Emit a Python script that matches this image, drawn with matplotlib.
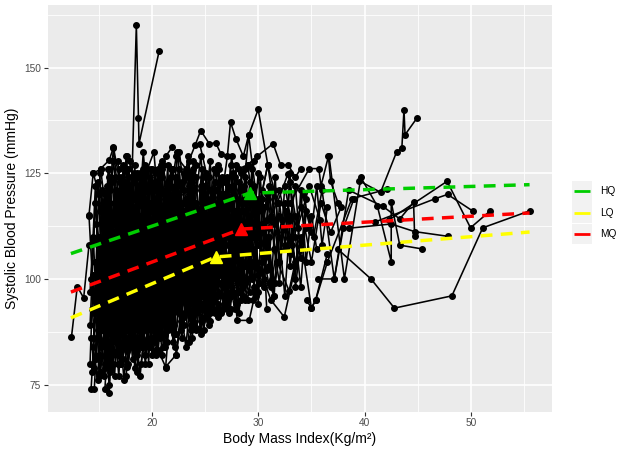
import matplotlib
matplotlib.use("Agg")
import matplotlib.pyplot as plt
from matplotlib.patches import Rectangle
from matplotlib.lines import Line2D


plt.rcParams["font.family"] = ["Liberation Sans", "DejaVu Sans"]

spike_subjects = [
    [(18.0, 112), (18.55, 160), (18.75, 138), (18.8, 132), (20.7, 154)],
]

upper_subjects = [
    [(14.1, 115.1), (14.5, 125.1), (15.0, 120.2), (15.2, 126.1), (16.0, 128.1), (16.4, 131.1), (17.0, 122.9), (17.6, 126.1)],
    [(18.0, 112), (18.65, 125.1), (19.3, 124.1), (20.2, 130.0), (20.6, 118), (21.0, 126.1), (21.3, 129.0), (21.9, 131.1)],
    [(21.5, 117), (22.3, 129.0), (23.2, 126.1), (24.1, 131.8), (24.6, 135.1), (25.4, 132.0), (26.0, 132.2), (26.5, 129.6)],
    [(24.5, 132.0), (25.5, 121), (26.5, 118), (27.1, 129.0), (27.4, 137.1), (27.9, 133.2), (28.6, 129.0), (29.1, 134.0), (30.0, 140.1), (30.9, 127.0)],
    [(28.2, 126.1), (29.0, 127.0), (29.9, 129.0), (31.4, 132.0), (32.1, 127.0), (32.8, 127.0), (33.5, 124.1), (34.0, 126.1)],
    [(33.0, 118), (34.8, 126.1), (35.7, 126.1), (35.9, 122), (36.6, 129.0), (36.8, 123.1), (37.5, 118)],
]

lower_subjects = [
    [(12.45, 86.2), (13.0, 98.2), (13.6, 95.5), (14.1, 108)],
    [(16.8, 95), (17.7, 79.2), (18.4, 90), (18.9, 77.1), (19.6, 94)],
    [(19.8, 100), (20.6, 83.1), (21.3, 79.2), (22.3, 82.1), (23.0, 95)],
    [(22.8, 104), (23.8, 92), (24.45, 88.1), (25.3, 97), (26.5, 92.1), (27.3, 100)],
    [(14.3, 86), (14.6, 79), (14.9, 90), (15.2, 78), (15.5, 88), (15.8, 81), (16.1, 90), (16.4, 80), (16.7, 88)],
    [(15.0, 77), (15.3, 85), (15.6, 79), (15.9, 91), (16.2, 83), (16.5, 77), (16.8, 89), (17.1, 80), (17.4, 90)],
    [(17.0, 84), (17.4, 92), (17.8, 80), (18.2, 89), (18.6, 82), (19.0, 88), (19.4, 80), (19.8, 90), (20.2, 83)],
    [(25.8, 95), (26.3, 101), (26.8, 94), (27.3, 99), (27.8, 93), (28.3, 100), (28.8, 95), (29.3, 103), (29.8, 97)],
    [(27.5, 98), (28.0, 94), (28.5, 101), (29.0, 95), (29.5, 104), (30.0, 97), (30.5, 105), (31.0, 99), (31.5, 96)],
]

tail_subjects = [
    [(37.5, 107), (40.6, 100), (42.8, 93.1), (48.2, 96), (51.1, 112.1), (55.5, 116.1)],
    [(42.3, 114), (47.75, 123.1), (49.95, 112.1), (51.8, 116.1)],
    [(41.0, 113.5), (46.65, 119), (47.8, 120), (50.2, 116)],
    [(38.5, 112), (42.5, 113), (44.7, 111.2), (47.8, 110.1)],
    [(39.5, 123.2), (41.5, 120.5), (43.0, 130), (43.5, 131), (43.7, 140), (43.8, 134.1), (44.9, 138)],
    [(36.65, 129.2), (38.1, 100), (39.65, 124), (41.2, 117.2), (42.5, 104.1), (42.5, 118.2), (43.3, 108), (45.4, 107.1)],
    [(35.6, 100), (37.15, 100), (38.5, 121), (41.7, 117.2), (43.3, 114.2), (44.6, 118.1), (44.7, 110.2)],
    [(34.55, 95), (35.0, 93.1), (35.4, 95), (36.5, 104), (38.8, 119), (42.1, 121.2)],
]

core_subjects = [
    [(14.1, 115), (14.6, 92), (15.0, 120), (15.5, 98), (16.0, 110), (16.6, 88), (17.2, 105), (17.9, 96)],
    [(14.2, 80), (14.5, 101), (14.9, 86), (15.4, 112), (15.9, 94), (16.5, 118), (17.0, 100), (17.8, 108)],
    [(14.3, 74), (14.8, 96), (15.2, 84), (15.7, 104), (16.3, 90), (16.9, 114), (17.5, 97), (18.2, 110)],
    [(14.4, 78), (14.9, 108), (15.3, 90), (15.8, 122), (16.4, 99), (17.0, 92), (17.7, 116), (18.5, 102)],
    [(14.2, 89), (14.7, 118), (15.2, 104), (15.6, 80), (16.1, 107), (16.7, 95), (17.4, 121), (18.0, 99)],
    [(14.6, 74), (15.0, 94), (15.5, 77), (16.0, 100), (16.5, 86), (17.1, 109), (17.6, 91), (18.3, 104)],
    [(15.6, 74), (15.9, 88), (16.0, 73), (16.4, 96), (17.0, 84), (17.6, 103), (18.2, 90), (18.9, 112)],
    [(15.1, 125), (15.5, 106), (16.0, 116), (16.4, 128), (17.0, 112), (17.6, 122), (18.1, 104), (18.7, 119)],
    [(14.5, 125), (15.2, 126), (15.8, 113), (16.4, 131), (16.9, 118), (17.6, 126), (18.2, 110), (18.8, 121)],
    [(15.0, 120), (15.4, 99), (16.0, 124), (16.6, 106), (17.2, 96), (17.8, 118), (18.5, 101), (19.3, 124)],
    [(16.2, 90), (16.8, 112), (17.3, 84), (17.9, 106), (18.6, 92), (19.2, 117), (19.9, 98), (20.6, 109)],
    [(16.5, 102), (17.0, 80), (17.7, 98), (18.3, 86), (18.9, 111), (19.5, 88), (20.2, 104), (21.0, 95)],
    [(17.0, 118), (17.5, 96), (18.1, 124), (18.7, 103), (19.3, 92), (20.0, 121), (20.6, 105), (21.4, 115)],
    [(17.2, 87), (17.7, 107), (18.4, 79), (19.0, 100), (19.6, 85), (20.3, 110), (21.0, 93), (21.8, 102)],
    [(17.6, 77), (18.0, 95), (18.6, 83), (19.2, 106), (19.8, 90), (20.5, 99), (21.2, 84), (22.0, 108)],
    [(16.0, 96), (16.6, 121), (17.1, 103), (17.8, 126), (18.4, 108), (19.1, 123), (19.7, 101), (20.4, 118)],
    [(18.0, 122), (18.5, 99), (19.0, 115), (19.6, 126), (20.2, 104), (20.8, 120), (21.5, 97), (22.2, 113)],
    [(18.3, 90), (18.8, 104), (19.4, 82), (20.0, 97), (20.7, 87), (21.3, 106), (22.0, 92), (22.8, 101)],
    [(18.6, 112), (19.2, 94), (19.8, 118), (20.4, 96), (21.0, 124), (21.7, 103), (22.4, 117), (23.1, 99)],
    [(19.0, 85), (19.5, 100), (20.1, 89), (20.8, 112), (21.4, 90), (22.1, 104), (22.8, 86), (23.6, 98)],
    [(20.0, 123), (20.5, 106), (21.1, 127), (21.8, 110), (22.4, 130), (23.0, 113), (23.7, 125), (24.4, 108)],
    [(20.3, 94), (20.9, 115), (21.5, 99), (22.2, 121), (22.9, 101), (23.5, 111), (24.2, 93), (25.0, 107)],
    [(20.6, 83), (21.2, 101), (21.9, 88), (22.5, 97), (23.2, 84), (23.9, 102), (24.6, 90), (25.4, 100)],
    [(21.0, 108), (21.6, 92), (22.3, 116), (23.0, 98), (23.6, 119), (24.3, 105), (25.0, 122), (25.8, 110)],
    [(21.3, 79), (21.8, 95), (22.3, 82), (23.0, 99), (23.7, 88), (24.5, 96), (25.2, 91), (26.0, 104)],
    [(22.0, 126), (22.6, 111), (23.2, 124), (23.9, 114), (24.6, 129), (25.3, 112), (26.0, 121), (26.8, 116)],
    [(22.4, 100), (23.0, 118), (23.6, 95), (24.3, 113), (25.0, 99), (25.7, 118), (26.4, 103), (27.2, 111)],
    [(23.0, 91), (23.6, 106), (24.2, 88), (24.9, 104), (25.6, 94), (26.3, 108), (27.0, 96), (27.9, 106)],
    [(23.5, 119), (24.1, 101), (24.8, 124), (25.5, 107), (26.2, 127), (26.9, 110), (27.6, 122), (28.4, 113)],
    [(24.0, 96), (24.6, 112), (25.3, 92), (26.0, 115), (26.7, 98), (27.4, 119), (28.2, 104), (29.0, 114)],
    [(25.0, 110), (25.8, 96), (26.5, 113), (27.3, 92), (28.0, 110), (28.8, 99), (29.6, 118), (30.5, 105)],
    [(26.0, 125), (26.8, 108), (27.5, 129), (28.3, 112), (29.1, 134), (30.0, 116), (30.9, 127), (31.8, 111)],
    [(26.5, 92), (27.3, 104), (28.05, 90.2), (29.15, 90.2), (30.2, 102), (31.2, 95), (32.45, 91), (33.5, 103)],
    [(27.0, 115), (27.8, 101), (28.6, 121), (29.5, 107), (30.4, 119), (31.3, 100), (32.2, 114), (33.2, 108)],
    [(28.0, 97), (28.9, 112), (29.8, 96), (30.7, 110), (31.6, 99), (32.6, 116), (33.5, 104), (34.5, 112)],
    [(29.0, 127), (29.8, 114), (30.9, 127), (31.8, 118), (32.8, 124.9), (33.7, 112), (34.8, 122), (35.8, 114)],
    [(30.0, 108), (30.9, 119), (31.8, 104), (32.9, 97.2), (34.0, 110), (35.0, 93.1), (35.4, 95), (36.5, 106)],
    [(31.0, 112), (32.0, 121), (33.0, 109), (34.0, 117), (35.0, 104), (35.9, 118), (36.8, 111), (37.8, 117)],
    [(32.0, 115), (33.1, 106), (34.2, 120), (35.2, 110), (36.0, 121), (37.15, 100), (38.0, 112), (39.0, 119)],
    [(15.3, 100), (15.7, 116), (16.2, 93), (16.8, 119), (17.3, 101), (17.9, 113), (18.4, 89), (19.0, 107)],
    [(15.8, 85), (16.3, 105), (16.9, 92), (17.4, 110), (18.0, 95), (18.7, 118), (19.3, 103), (20.0, 92)],
    [(16.1, 114), (16.7, 98), (17.2, 108), (17.8, 86), (18.4, 99), (19.0, 121), (19.7, 110), (20.5, 100)],
    [(16.4, 83), (16.9, 100), (17.5, 89), (18.1, 115), (18.8, 97), (19.4, 108), (20.1, 94), (20.9, 117)],
    [(17.4, 105), (17.9, 91), (18.5, 120), (19.1, 98), (19.8, 111), (20.4, 88), (21.1, 113), (21.9, 100)],
    [(17.8, 96), (18.2, 116), (18.8, 101), (19.4, 127), (20.0, 112), (20.7, 95), (21.3, 109), (22.1, 121)],
    [(18.5, 83), (19.0, 96), (19.6, 109), (20.2, 91), (20.9, 103), (21.5, 114), (22.2, 97), (23.0, 110)],
    [(19.2, 119), (19.8, 104), (20.5, 116), (21.1, 99), (21.8, 124), (22.5, 106), (23.2, 116), (24.0, 101)],
    [(19.6, 93), (20.2, 108), (20.8, 86), (21.5, 103), (22.1, 89), (22.8, 111), (23.5, 95), (24.3, 105)],
    [(20.8, 114), (21.4, 98), (22.0, 110), (22.7, 92), (23.4, 115), (24.1, 97), (24.8, 116), (25.6, 99)],
    [(21.6, 102), (22.2, 122), (22.9, 105), (23.5, 125), (24.2, 109), (24.9, 118), (25.6, 106), (26.5, 120)],
    [(22.2, 87), (22.9, 99), (23.5, 85), (24.2, 96), (24.9, 88), (25.6, 103), (26.3, 93), (27.1, 102)],
    [(14.8, 104), (15.3, 88), (15.9, 111), (16.5, 94), (17.1, 116), (17.7, 88), (18.3, 106), (19.0, 96)],
    [(15.5, 112), (16.0, 82), (16.6, 107), (17.2, 93), (17.8, 109), (18.5, 94), (19.2, 114), (19.9, 104)],
    [(14.9, 97), (15.4, 118), (15.8, 92), (16.3, 106), (16.9, 85), (17.5, 102), (18.0, 113), (18.6, 98)],
    [(16.9, 124), (17.4, 111), (18.0, 128), (18.6, 115), (19.2, 104), (19.9, 122), (20.6, 107), (21.2, 119)],
    [(18.9, 97), (19.4, 113), (20.0, 100), (20.6, 126), (21.2, 101), (21.9, 115), (22.6, 92), (23.4, 108)],
    [(20.1, 96), (20.7, 120), (21.3, 95), (22.0, 102), (22.7, 118), (23.3, 100), (24.0, 111), (24.7, 94)],
    [(23.2, 105), (23.8, 123), (24.4, 103), (25.1, 114), (25.8, 100), (26.6, 124), (27.4, 106), (28.2, 118)],
    [(24.4, 99), (25.1, 119), (25.7, 96), (26.4, 112), (27.1, 101), (27.8, 116), (28.6, 96), (29.5, 110)],
    [(25.5, 113), (26.2, 99), (26.9, 118), (27.6, 104), (28.3, 121), (29.1, 106), (29.9, 117), (30.8, 102)],
]

dense_subjects = [
    [(14.3, 100), (14.7, 122), (15.1, 95), (15.5, 117), (15.9, 89), (16.3, 113), (16.7, 97), (17.1, 119), (17.5, 93)],
    [(14.6, 86), (15.0, 110), (15.4, 91), (15.8, 109), (16.2, 84), (16.6, 103), (17.0, 123), (17.4, 99), (17.8, 114)],
    [(14.8, 113), (15.2, 97), (15.6, 120), (16.0, 104), (16.4, 86), (16.8, 107), (17.2, 89), (17.6, 111), (18.0, 92)],
    [(15.0, 82), (15.3, 99), (15.7, 87), (16.1, 118), (16.5, 92), (16.9, 105), (17.3, 81), (17.7, 100), (18.1, 87)],
    [(15.2, 107), (15.6, 93), (16.0, 126), (16.4, 110), (16.8, 96), (17.2, 124), (17.6, 107), (18.0, 89), (18.4, 117)],
    [(15.4, 95), (15.8, 114), (16.2, 101), (16.6, 85), (17.0, 98), (17.4, 116), (17.8, 95), (18.2, 123), (18.6, 96)],
    [(15.7, 119), (16.1, 90), (16.5, 111), (16.9, 96), (17.3, 127), (17.7, 103), (18.1, 98), (18.5, 112), (18.9, 88)],
    [(16.0, 88), (16.4, 105), (16.8, 80), (17.2, 97), (17.6, 109), (18.0, 86), (18.4, 102), (18.8, 91), (19.2, 110)],
    [(16.3, 115), (16.7, 93), (17.1, 113), (17.5, 104), (17.9, 121), (18.3, 96), (18.7, 108), (19.1, 85), (19.5, 104)],
    [(16.6, 99), (17.0, 120), (17.4, 90), (17.8, 101), (18.2, 84), (18.6, 114), (19.0, 93), (19.4, 119), (19.8, 96)],
    [(16.9, 108), (17.3, 88), (17.7, 122), (18.1, 100), (18.5, 93), (18.9, 125), (19.3, 97), (19.7, 113), (20.1, 102)],
    [(17.2, 94), (17.6, 113), (18.0, 103), (18.4, 127), (18.8, 100), (19.2, 88), (19.6, 105), (20.0, 82), (20.4, 98)],
    [(17.5, 110), (17.9, 84), (18.3, 97), (18.7, 118), (19.1, 109), (19.5, 95), (19.9, 116), (20.3, 99), (20.7, 122)],
    [(17.8, 101), (18.2, 92), (18.6, 107), (19.0, 89), (19.4, 121), (19.8, 107), (20.2, 96), (20.6, 114), (21.0, 87)],
    [(18.1, 87), (18.5, 106), (18.9, 94), (19.3, 112), (19.7, 80), (20.1, 101), (20.5, 123), (20.9, 103), (21.3, 97)],
    [(18.4, 116), (18.8, 98), (19.2, 126), (19.6, 103), (20.0, 93), (20.4, 117), (20.8, 99), (21.2, 120), (21.6, 105)],
    [(18.7, 95), (19.1, 119), (19.5, 99), (19.9, 109), (20.3, 85), (20.7, 106), (21.1, 90), (21.5, 118), (21.9, 94)],
    [(19.0, 108), (19.4, 90), (19.8, 124), (20.2, 113), (20.6, 92), (21.0, 101), (21.4, 121), (21.8, 96), (22.2, 107)],
    [(19.3, 99), (19.7, 117), (20.1, 106), (20.5, 89), (20.9, 110), (21.3, 98), (21.7, 113), (22.1, 87), (22.5, 103)],
    [(19.6, 121), (20.0, 96), (20.4, 102), (20.8, 124), (21.2, 108), (21.6, 89), (22.0, 115), (22.4, 102), (22.8, 123)],
    [(19.9, 88), (20.3, 111), (20.7, 97), (21.1, 84), (21.5, 107), (21.9, 119), (22.3, 93), (22.7, 109), (23.1, 97)],
    [(20.2, 105), (20.6, 93), (21.0, 116), (21.4, 103), (21.8, 93), (22.2, 111), (22.6, 126), (23.0, 104), (23.4, 117)],
    [(20.5, 112), (20.9, 127), (21.3, 106), (21.7, 122), (22.1, 98), (22.5, 114), (22.9, 95), (23.3, 106), (23.7, 89)],
    [(20.8, 98), (21.2, 89), (21.6, 110), (22.0, 97), (22.4, 119), (22.8, 98), (23.2, 112), (23.6, 101), (24.0, 121)],
    [(21.1, 121), (21.5, 103), (21.9, 96), (22.3, 108), (22.7, 90), (23.1, 107), (23.5, 128), (23.9, 108), (24.3, 96)],
    [(21.4, 91), (21.8, 117), (22.2, 104), (22.6, 120), (23.0, 107), (23.4, 92), (23.8, 104), (24.2, 118), (24.6, 103)],
    [(21.7, 107), (22.1, 95), (22.5, 123), (22.9, 112), (23.3, 97), (23.7, 121), (24.1, 110), (24.5, 94), (24.9, 112)],
    [(22.0, 93), (22.4, 109), (22.8, 99), (23.2, 119), (23.6, 101), (24.0, 89), (24.4, 106), (24.8, 122), (25.2, 104)],
    [(22.6, 115), (23.0, 103), (23.4, 97), (23.8, 112), (24.2, 124), (24.6, 100), (25.0, 115), (25.4, 98), (25.8, 117)],
    [(23.0, 125), (23.4, 110), (23.8, 99), (24.2, 117), (24.6, 107), (25.0, 91), (25.4, 108), (25.8, 121), (26.2, 101)],
    [(23.4, 96), (23.8, 108), (24.2, 92), (24.6, 121), (25.0, 104), (25.4, 117), (25.8, 96), (26.2, 110), (26.6, 99)],
    [(23.8, 113), (24.2, 99), (24.6, 116), (25.0, 98), (25.4, 124), (25.8, 109), (26.2, 118), (26.6, 104), (27.0, 123)],
    [(24.2, 104), (24.6, 93), (25.0, 109), (25.4, 90), (25.8, 112), (26.2, 94), (26.6, 115), (27.0, 99), (27.4, 113)],
    [(24.6, 122), (25.0, 113), (25.4, 101), (25.8, 126), (26.2, 106), (26.6, 120), (27.0, 108), (27.4, 127), (27.8, 110)],
    [(25.0, 101), (25.4, 111), (25.8, 93), (26.2, 103), (26.6, 111), (27.0, 95), (27.4, 115), (27.8, 102), (28.2, 97)],
    [(25.6, 118), (26.0, 105), (26.4, 123), (26.8, 100), (27.2, 118), (27.6, 97), (28.0, 119), (28.4, 106), (28.8, 124)],
    [(26.2, 96), (26.6, 108), (27.0, 117), (27.4, 101), (27.8, 124), (28.2, 105), (28.6, 113), (29.0, 100), (29.4, 120)],
    [(26.8, 106), (27.2, 122), (27.6, 112), (28.0, 99), (28.4, 116), (28.8, 108), (29.2, 123), (29.6, 103), (30.0, 113)],
    [(27.4, 97), (27.8, 108), (28.2, 92), (28.6, 104), (29.0, 119), (29.4, 100), (29.8, 110), (30.2, 124), (30.6, 108)],
    [(28.0, 116), (28.4, 102), (28.8, 126), (29.2, 111), (29.6, 98), (30.0, 119), (30.4, 104), (30.8, 114), (31.2, 121)],
    [(14.4, 93), (14.8, 81), (15.2, 100), (15.6, 86), (16.0, 75), (16.4, 92), (16.8, 82), (17.2, 99), (17.6, 85)],
    [(14.5, 109), (14.9, 123), (15.3, 114), (15.7, 96), (16.1, 121), (16.5, 109), (16.9, 126), (17.3, 112), (17.7, 129)],
    [(16.2, 79), (16.6, 93), (17.0, 87), (17.4, 76), (17.8, 92), (18.2, 81), (18.6, 97), (19.0, 84), (19.4, 91)],
    [(18.2, 85), (18.6, 78), (19.0, 93), (19.4, 84), (19.8, 94), (20.2, 86), (20.6, 92), (21.0, 82), (21.4, 97)],
    [(20.0, 90), (20.4, 82), (20.8, 95), (21.2, 87), (21.6, 99), (22.0, 85), (22.4, 96), (22.8, 89), (23.2, 94)],
    [(16.8, 128), (17.2, 118), (17.6, 129), (18.0, 117), (18.4, 124), (18.8, 115), (19.2, 130), (19.6, 118), (20.0, 126)],
    [(21.0, 128), (21.4, 117), (21.8, 126), (22.2, 116), (22.6, 130), (23.0, 121), (23.4, 129), (23.8, 118), (24.2, 127)],
    [(29.5, 95), (30.0, 111), (30.5, 100), (31.0, 122), (31.5, 107), (32.0, 99), (32.5, 118), (33.0, 103), (33.5, 115)],
    [(30.5, 117), (31.0, 103), (31.5, 121), (32.0, 110), (32.5, 96), (33.0, 114), (33.5, 122), (34.0, 105), (34.5, 119)],
    [(32.5, 107), (33.0, 123), (33.5, 110), (34.0, 98), (34.5, 116), (35.0, 111), (35.5, 122), (36.0, 108), (36.5, 117)],
]

extra_subjects = [
    [(14.2, 97), (14.5, 110), (14.9, 88), (15.3, 121), (15.7, 101), (16.1, 95), (16.5, 124), (16.9, 90), (17.3, 107)],
    [(14.7, 104), (15.1, 91), (15.5, 103), (15.9, 126), (16.3, 98), (16.7, 115), (17.1, 91), (17.5, 120), (17.9, 104)],
    [(15.1, 116), (15.5, 89), (15.9, 100), (16.3, 82), (16.7, 118), (17.1, 95), (17.5, 86), (17.9, 101), (18.3, 125)],
    [(15.5, 104), (15.9, 121), (16.3, 109), (16.7, 100), (17.1, 89), (17.5, 113), (17.9, 124), (18.3, 94), (18.7, 105)],
    [(15.9, 98), (16.3, 87), (16.7, 110), (17.1, 121), (17.5, 106), (17.9, 98), (18.3, 113), (18.7, 86), (19.1, 118)],
    [(16.3, 123), (16.7, 104), (17.1, 94), (17.5, 116), (17.9, 88), (18.3, 108), (18.7, 124), (19.1, 102), (19.5, 89)],
    [(16.7, 91), (17.1, 118), (17.5, 99), (17.9, 93), (18.3, 119), (18.7, 95), (19.1, 106), (19.5, 125), (19.9, 100)],
    [(17.1, 102), (17.5, 90), (17.9, 115), (18.3, 103), (18.7, 88), (19.1, 114), (19.5, 92), (19.9, 104), (20.3, 117)],
    [(17.5, 123), (17.9, 109), (18.3, 91), (18.7, 122), (19.1, 99), (19.5, 117), (19.9, 86), (20.3, 108), (20.7, 96)],
    [(17.9, 89), (18.3, 101), (18.7, 113), (19.1, 91), (19.5, 110), (19.9, 103), (20.3, 121), (20.7, 89), (21.1, 106)],
    [(18.3, 108), (18.7, 120), (19.1, 86), (19.5, 98), (19.9, 126), (20.3, 94), (20.7, 111), (21.1, 117), (21.5, 93)],
    [(18.7, 102), (19.1, 93), (19.5, 114), (19.9, 91), (20.3, 100), (20.7, 125), (21.1, 104), (21.5, 88), (21.9, 111)],
    [(19.1, 125), (19.5, 106), (19.9, 95), (20.3, 119), (20.7, 103), (21.1, 95), (21.5, 123), (21.9, 106), (22.3, 99)],
    [(19.5, 90), (19.9, 113), (20.3, 103), (20.7, 116), (21.1, 92), (21.5, 111), (21.9, 100), (22.3, 120), (22.7, 95)],
    [(19.9, 107), (20.3, 125), (20.7, 109), (21.1, 97), (21.5, 116), (21.9, 91), (22.3, 113), (22.7, 104), (23.1, 124)],
    [(20.3, 100), (20.7, 90), (21.1, 111), (21.5, 127), (21.9, 98), (22.3, 87), (22.7, 101), (23.1, 116), (23.5, 92)],
    [(20.7, 118), (21.1, 102), (21.5, 93), (21.9, 108), (22.3, 124), (22.7, 96), (23.1, 109), (23.5, 99), (23.9, 115)],
    [(21.1, 96), (21.5, 114), (21.9, 126), (22.3, 99), (22.7, 112), (23.1, 92), (23.5, 120), (23.9, 94), (24.3, 110)],
    [(21.5, 110), (21.9, 89), (22.3, 102), (22.7, 116), (23.1, 101), (23.5, 113), (23.9, 126), (24.3, 101), (24.7, 90)],
    [(21.9, 120), (22.3, 107), (22.7, 88), (23.1, 103), (23.5, 94), (23.9, 117), (24.3, 99), (24.7, 118), (25.1, 108)],
    [(22.3, 94), (22.7, 122), (23.1, 110), (23.5, 101), (23.9, 91), (24.3, 114), (24.7, 126), (25.1, 95), (25.5, 113)],
    [(22.7, 107), (23.1, 97), (23.5, 113), (23.9, 128), (24.3, 103), (24.7, 94), (25.1, 110), (25.5, 119), (25.9, 92)],
    [(23.1, 101), (23.5, 116), (23.9, 90), (24.3, 106), (24.7, 117), (25.1, 100), (25.5, 92), (25.9, 114), (26.3, 105)],
    [(23.5, 122), (23.9, 103), (24.3, 113), (24.7, 96), (25.1, 125), (25.5, 112), (25.9, 104), (26.3, 126), (26.7, 96)],
    [(23.9, 94), (24.3, 108), (24.7, 100), (25.1, 119), (25.5, 95), (25.9, 121), (26.3, 99), (26.7, 109), (27.1, 119)],
    [(24.3, 115), (24.7, 105), (25.1, 93), (25.5, 104), (25.9, 117), (26.3, 97), (26.7, 123), (27.1, 93), (27.5, 107)],
    [(24.7, 96), (25.1, 119), (25.5, 128), (25.9, 98), (26.3, 113), (26.7, 104), (27.1, 112), (27.5, 121), (27.9, 100)],
    [(25.1, 104), (25.5, 94), (25.9, 111), (26.3, 123), (26.7, 108), (27.1, 124), (27.5, 96), (27.9, 115), (28.3, 109)],
    [(25.5, 90), (25.9, 107), (26.3, 117), (26.7, 93), (27.1, 105), (27.5, 110), (27.9, 127), (28.3, 101), (28.7, 116)],
    [(25.9, 123), (26.3, 111), (26.7, 99), (27.1, 116), (27.5, 103), (27.9, 94), (28.3, 114), (28.7, 122), (29.1, 102)],
    [(26.4, 108), (26.8, 120), (27.2, 95), (27.6, 125), (28.0, 105), (28.4, 125), (28.8, 103), (29.2, 115), (29.6, 128)],
    [(27.0, 103), (27.4, 93), (27.8, 112), (28.2, 123), (28.6, 98), (29.0, 110), (29.4, 126), (29.8, 104), (30.2, 99)],
    [(27.6, 120), (28.0, 107), (28.4, 95), (28.8, 118), (29.2, 107), (29.6, 122), (30.0, 101), (30.4, 113), (30.8, 93)],
    [(28.4, 110), (28.8, 99), (29.2, 97), (29.6, 113), (30.0, 125), (30.4, 111), (30.8, 120), (31.2, 98), (31.6, 114)],
    [(29.2, 104), (29.6, 118), (30.0, 94), (30.4, 121), (30.8, 106), (31.2, 115), (31.6, 124), (32.0, 104), (32.4, 112)],
    [(30.0, 118), (30.5, 98), (31.0, 110), (31.5, 96), (32.0, 118), (32.5, 108), (33.0, 125), (33.5, 98), (34.0, 109)],
    [(31.5, 113), (32.0, 104), (32.5, 122), (33.0, 115), (33.5, 100), (34.0, 121), (34.5, 104), (35.0, 115), (35.5, 107)],
    [(14.5, 84), (14.9, 76), (15.3, 94), (15.7, 91), (16.1, 78), (16.5, 89), (16.9, 77), (17.3, 94), (17.7, 83)],
    [(19.0, 80), (19.4, 89), (19.8, 84), (20.2, 96), (20.6, 88), (21.0, 99), (21.4, 85), (21.8, 91), (22.2, 84)],
    [(23.0, 89), (23.4, 100), (23.8, 86), (24.2, 98), (24.6, 87), (25.0, 96), (25.4, 89), (25.8, 99), (26.2, 91)],
]

# segmented quantile fits: start, breakpoint, end
quantile_names = ["HQ", "LQ", "MQ"]
quantile_colors = ["#00CD00", "#FFFF00", "#FF0000"]
hq_bmi = [12.4, 29.2, 55.5]
hq_sbp = [106.0, 120.3, 122.3]
lq_bmi = [12.4, 26.0, 55.5]
lq_sbp = [90.8, 105.2, 111.1]
mq_bmi = [12.4, 28.4, 55.5]
mq_sbp = [96.9, 111.8, 115.6]

W, H = 630, 458


def px_x(p):
    return p / W


def px_y(p):
    return 1 - p / H


fig = plt.figure(figsize=(W / 100, H / 100), dpi=100)
ax = fig.add_axes([px_x(47.7), px_y(411.7), (551.7 - 47.7) / W, (411.7 - 5) / H])
ax.set_facecolor("#EBEBEB")
for s in ax.spines.values():
    s.set_visible(False)

all_subjects = (spike_subjects + upper_subjects + lower_subjects + tail_subjects
                + core_subjects + dense_subjects + extra_subjects)
for subj in all_subjects:
    pts = sorted(subj)
    xs = [p[0] for p in pts]
    ys = [p[1] for p in pts]
    ax.plot(xs, ys, color="black", lw=1.15, marker="o", ms=4.0, zorder=3)

fits = [(hq_bmi, hq_sbp), (lq_bmi, lq_sbp), (mq_bmi, mq_sbp)]
for (bx, by), col in zip(fits, quantile_colors):
    ax.plot(bx, by, color=col, lw=2.5, dashes=(3.4, 2.4), dash_capstyle="butt", zorder=4)
    ax.plot(bx[1], by[1], marker="^", color=col, ms=8, zorder=5, lw=0)

ax.set_xlim(10.22, 57.58)
ax.set_ylim(68.6, 164.8)
ax.set_xticks([20, 30, 40, 50])
ax.set_yticks([75, 100, 125, 150])
ax.set_xticks([15, 25, 35, 45, 55], minor=True)
ax.set_yticks([87.5, 112.5, 137.5, 162.5], minor=True)
ax.grid(True, which="major", color="white", lw=1.2, zorder=0)
ax.grid(True, which="minor", color="white", lw=0.6, zorder=0)
ax.set_axisbelow(True)
ax.tick_params(which="major", length=2.7, width=0.8, color="#333333",
               labelsize=7.3, labelcolor="#4D4D4D", pad=2)
ax.tick_params(which="minor", length=0)

ax.set_xlabel("Body Mass Index(Kg/m²)", fontsize=10, labelpad=3)
ax.set_ylabel("Systolic Blood Pressure (mmHg)", fontsize=10, labelpad=4)

# legend keys
key_tops = [181, 202.3, 223.6]
for name, col, top in zip(quantile_names, quantile_colors, key_tops):
    fig.add_artist(Rectangle((px_x(572.3), px_y(top + 20.7)), 20.0 / W, 20.7 / H,
                             transform=fig.transFigure, facecolor="#F2F2F2", edgecolor="none"))
    yc = px_y(top + 10.35)
    fig.add_artist(Line2D([px_x(574.3), px_x(590.3)], [yc, yc], transform=fig.transFigure,
                          color=col, lw=2.0, solid_capstyle="butt"))
    fig.text(px_x(600.5), yc, name, fontsize=7.3, va="center", ha="left", color="black")

fig.savefig("out.png", dpi=100)
